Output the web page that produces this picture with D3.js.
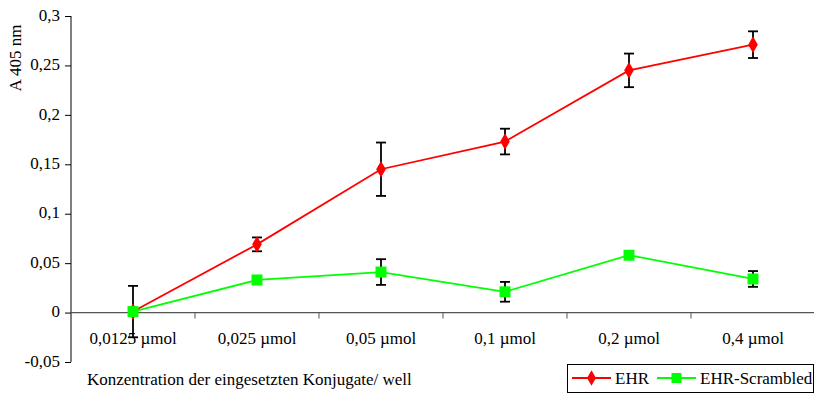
<!DOCTYPE html>
<html>
<head>
<meta charset="utf-8">
<script src="https://cdn.jsdelivr.net/npm/d3@7"></script>
<style>
  body { margin: 0; background: #fff; }
</style>
</head>
<body>
<script>
// data
var categories = ["0,0125 µmol", "0,025 µmol", "0,05 µmol", "0,1 µmol", "0,2 µmol", "0,4 µmol"];
var ehr = [0.001, 0.069, 0.145, 0.173, 0.245, 0.271];
var ehrErr = [0.026, 0.007, 0.027, 0.013, 0.017, 0.0135];
var scrambled = [0.001, 0.033, 0.041, 0.021, 0.058, 0.034];
var scrambledErr = [0, 0.003, 0.013, 0.010, 0.002, 0.008];
var yTicks = [-0.05, 0, 0.05, 0.1, 0.15, 0.2, 0.25, 0.3];

var w = 814, h = 394;
var font = "'Liberation Serif', 'DejaVu Serif', serif";
var svg = d3.select("body").append("svg").attr("width", w).attr("height", h)
  .style("font-family", font);

var x = d3.scaleBand().domain(categories).range([71, 815]);
var y = d3.scaleLinear().domain([-0.05, 0.3]).range([362, 16]);
var fmt = function (d) { return String(d).replace(".", ","); };

// y axis
var yAxis = svg.append("g").attr("transform", "translate(71,0)")
  .call(d3.axisLeft(y).tickValues(yTicks).tickFormat(fmt).tickSize(6).tickPadding(5));
yAxis.attr("font-family", null).attr("font-size", null);
yAxis.select(".domain").attr("stroke", "#000").attr("d", "M0," + y(-0.05) + "V" + y(0.3));
yAxis.selectAll("line").attr("stroke", "#000");
yAxis.selectAll("text").style("font-family", font).style("font-size", "17px")
  .attr("fill", "#000").attr("dy", "0.25em");

// x axis at zero
var xAxis = svg.append("g").attr("transform", "translate(0," + y(0) + ")");
xAxis.append("line").attr("x1", 71).attr("x2", 815).attr("stroke", "#555").attr("stroke-width", 1.2);
xAxis.selectAll(".tk").data(categories.slice(1)).enter().append("line")
  .attr("x1", function (d) { return x(d); }).attr("x2", function (d) { return x(d); })
  .attr("y1", 0).attr("y2", 6).attr("stroke", "#555");
xAxis.selectAll(".lbl").data(categories).enter().append("text")
  .attr("x", function (d) { return x(d) + x.bandwidth() / 2; })
  .attr("y", 31).attr("text-anchor", "middle").style("font-size", "17px")
  .text(function (d) { return d; });

// axis titles
svg.append("text").attr("transform", "translate(21,58) rotate(-90)")
  .attr("text-anchor", "middle").style("font-size", "17px").text("A 405 nm");
svg.append("text").attr("x", 87).attr("y", 385).style("font-size", "17px")
  .text("Konzentration der eingesetzten Konjugate/ well");

var cx = function (d, i) { return x(categories[i]) + x.bandwidth() / 2; };
var line = d3.line().x(cx).y(function (d) { return y(d); });

function drawSeries(vals, errs, color, symbol) {
  var g = svg.append("g");
  g.append("path").datum(vals).attr("d", line).attr("fill", "none")
    .attr("stroke", color).attr("stroke-width", 1.8);
  var eb = g.selectAll(".eb").data(vals).enter().append("g")
    .attr("stroke", "#000").attr("stroke-width", 1.8);
  eb.append("line").attr("x1", cx).attr("x2", cx)
    .attr("y1", function (d, i) { return y(d + errs[i]); })
    .attr("y2", function (d, i) { return y(d - errs[i]); });
  [1, -1].forEach(function (s) {
    eb.append("line")
      .attr("x1", function (d, i) { return cx(d, i) - 5; })
      .attr("x2", function (d, i) { return cx(d, i) + 5; })
      .attr("y1", function (d, i) { return y(d + s * errs[i]); })
      .attr("y2", function (d, i) { return y(d + s * errs[i]); });
  });
  g.selectAll(".m").data(vals).enter().append("path")
    .attr("d", d3.symbol().type(symbol).size(symbol === d3.symbolSquare ? 120 : 80))
    .attr("transform", function (d, i) { return "translate(" + cx(d, i) + "," + y(d) + ")"; })
    .attr("fill", color);
}

drawSeries(ehr, ehrErr, "#ff0000", d3.symbolDiamond);
drawSeries(scrambled, scrambledErr, "#00ff00", d3.symbolSquare);

// legend
var lg = svg.append("g");
lg.append("rect").attr("x", 567.5).attr("y", 364.5).attr("width", 246).attr("height", 28)
  .attr("fill", "#fff").attr("stroke", "#000");
var items = [
  { name: "EHR", color: "#ff0000", sym: d3.symbolDiamond, x: 572 },
  { name: "EHR-Scrambled", color: "#00ff00", sym: d3.symbolSquare, x: 657 }
];
items.forEach(function (it) {
  lg.append("line").attr("x1", it.x).attr("x2", it.x + 39).attr("y1", 378).attr("y2", 378)
    .attr("stroke", it.color).attr("stroke-width", 1.8);
  lg.append("path").attr("d", d3.symbol().type(it.sym).size(it.sym === d3.symbolSquare ? 100 : 70))
    .attr("transform", "translate(" + (it.x + 19.5) + ",378)").attr("fill", it.color);
  lg.append("text").attr("x", it.x + 43).attr("y", 384).style("font-size", "17px").text(it.name);
});
</script>
</body>
</html>
